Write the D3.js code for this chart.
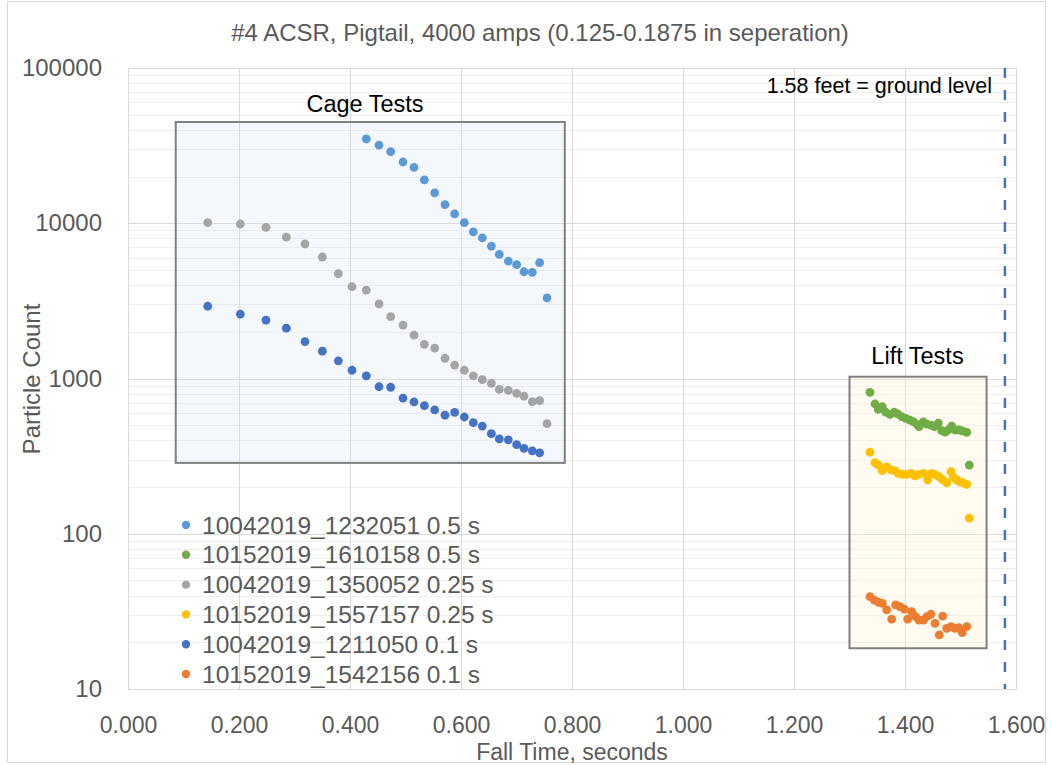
<!DOCTYPE html>
<html>
<head>
<meta charset="utf-8">
<script src="https://cdn.jsdelivr.net/npm/d3@7/dist/d3.min.js"></script>
<style>
  html, body { margin: 0; padding: 0; background: #fff; }
  svg { display: block; font-family: "Liberation Sans", Arial, sans-serif; }
</style>
</head>
<body>
<svg id="chart" width="1052" height="765"></svg>
<script>
// ---------------- DATA ----------------
const chartTitle = "#4 ACSR, Pigtail, 4000 amps (0.125-0.1875 in seperation)";
const xTitle = "Fall Time, seconds";
const yTitle = "Particle Count";
const xTickValues = [0, 0.2, 0.4, 0.6, 0.8, 1.0, 1.2, 1.4, 1.6];
const yTickValues = [10, 100, 1000, 10000, 100000];

const seriesNames = [
  "10042019_1232051 0.5 s",
  "10152019_1610158 0.5 s",
  "10042019_1350052 0.25 s",
  "10152019_1557157 0.25 s",
  "10042019_1211050 0.1 s",
  "10152019_1542156 0.1 s"
];
const seriesColors = ["#5b9bd5", "#70ad47", "#a5a5a5", "#ffc000", "#4472c4", "#ed7d31"];

// 10042019_1232051 0.5 s (cage)
const s1232051_x = [0.4294,0.4523,0.4733,0.4955,0.5153,0.5340,0.5526,0.5712,0.5886,0.6060,0.6222,0.6384,0.6547,0.6690,0.6853,0.7003,0.7135,0.7285,0.7417,0.7550];
const s1232051_y = [34900,31900,28900,24800,22900,19000,15700,13200,11500,10100,8790,8040,7130,6310,5710,5410,4870,4830,5570,3310];

// 10042019_1350052 0.25 s (cage)
const s1350052_x = [0.1436,0.2024,0.2486,0.2853,0.3189,0.3502,0.3790,0.4036,0.4294,0.4523,0.4733,0.4955,0.5153,0.5340,0.5526,0.5712,0.5886,0.6060,0.6222,0.6384,0.6547,0.6690,0.6853,0.7003,0.7135,0.7285,0.7417,0.7550];
const s1350052_y = [10100,9890,9410,8150,7350,6060,4730,3900,3710,3020,2500,2210,1900,1660,1570,1350,1220,1130,1040,982,931,852,839,803,771,709,720,512];

// 10042019_1211050 0.1 s (cage)
const s1211050_x = [0.1436,0.2024,0.2486,0.2853,0.3189,0.3502,0.3790,0.4036,0.4294,0.4523,0.4733,0.4955,0.5153,0.5340,0.5526,0.5712,0.5886,0.6060,0.6222,0.6384,0.6547,0.6690,0.6853,0.7003,0.7135,0.7285,0.7417];
const s1211050_y = [2920,2600,2380,2110,1730,1500,1300,1130,1040,885,878,748,706,668,627,580,605,565,519,494,441,408,403,375,355,342,332];

// 10152019_1610158 0.5 s (lift)
const s1610158_x = [1.3369,1.3459,1.3519,1.3591,1.3652,1.3730,1.3807,1.3868,1.3941,1.4013,1.4090,1.4150,1.4211,1.4252,1.4330,1.4391,1.4468,1.4528,1.4600,1.4661,1.4721,1.4780,1.4841,1.4901,1.4973,1.5032,1.5112,1.5159];
const s1610158_y = [815,685,633,658,608,588,606,591,567,554,540,527,509,489,525,509,501,489,515,461,452,466,494,466,466,459,450,277];

// 10152019_1557157 0.25 s (lift)
const s1557157_x = [1.3369,1.3459,1.3519,1.3591,1.3670,1.3748,1.3820,1.3880,1.3951,1.4030,1.4108,1.4180,1.4252,1.4330,1.4409,1.4481,1.4541,1.4613,1.4672,1.4751,1.4829,1.4870,1.4931,1.4991,1.5050,1.5112,1.5159];
const s1557157_y = [335,287,277,255,270,258,254,245,241,241,245,236,241,245,222,245,240,233,224,213,251,231,222,216,213,208,126];

// 10152019_1542156 0.1 s (lift)
const s1542156_x = [1.3369,1.3447,1.3519,1.3591,1.3670,1.3760,1.3832,1.3910,1.3988,1.4048,1.4120,1.4193,1.4252,1.4330,1.4391,1.4468,1.4541,1.4618,1.4679,1.4751,1.4829,1.4901,1.4973,1.5032,1.5112];
const s1542156_y = [39.3,37.4,36.2,35.6,32.3,28.2,34.8,33.9,32.7,28.2,31.5,29.2,27.8,27.8,29.2,30.3,26.5,22.3,29.5,24.6,25.2,24.6,24.8,23.1,25.2];

// annotation boxes (data coordinates)
const cageBoxX = [0.086, 0.787];
const cageBoxY = [286, 44900];
const liftBoxX = [1.300, 1.547];
const liftBoxY = [18.3, 1027];
const groundLevelX = 1.58;
const groundLabel = "1.58 feet = ground level";
const cageLabel = "Cage Tests";
const liftLabel = "Lift Tests";

// ---------------- LAYOUT ----------------
const svg = d3.select("#chart");
const W = 1052, H = 765;
const plot = { left: 128, right: 1016, top: 68, bottom: 689 };

const x = d3.scaleLinear().domain([0, 1.6]).range([plot.left, plot.right]);
const y = d3.scaleLog().domain([10, 100000]).range([plot.bottom, plot.top]);

svg.append("rect").attr("width", W).attr("height", H).attr("fill", "#fff");
// outer chart border
svg.append("rect").attr("x", 7.5).attr("y", 1.5).attr("width", 1038).attr("height", 761)
  .attr("fill", "none").attr("stroke", "#d9d9d9").attr("stroke-width", 1);

// minor log gridlines
const minor = [];
for (let d = 10; d < 100000; d *= 10) for (let k = 2; k <= 9; k++) minor.push(d * k);
svg.append("g").selectAll("line").data(minor).join("line")
  .attr("x1", plot.left).attr("x2", plot.right)
  .attr("y1", d => Math.round(y(d)) + 0.5).attr("y2", d => Math.round(y(d)) + 0.5)
  .attr("stroke", "#efefef").attr("stroke-width", 1);

// major horizontal grid
svg.append("g").selectAll("line").data(yTickValues).join("line")
  .attr("x1", plot.left).attr("x2", plot.right)
  .attr("y1", d => Math.round(y(d)) + 0.5).attr("y2", d => Math.round(y(d)) + 0.5)
  .attr("stroke", "#d9d9d9").attr("stroke-width", 1);

// vertical grid
svg.append("g").selectAll("line").data(xTickValues).join("line")
  .attr("x1", d => Math.round(x(d)) + 0.5).attr("x2", d => Math.round(x(d)) + 0.5)
  .attr("y1", plot.top).attr("y2", plot.bottom)
  .attr("stroke", "#d9d9d9").attr("stroke-width", 1);

// plot border
svg.append("rect").attr("x", plot.left + 0.5).attr("y", plot.top + 0.5)
  .attr("width", plot.right - plot.left).attr("height", plot.bottom - plot.top)
  .attr("fill", "none").attr("stroke", "#d9d9d9");

// annotation boxes
svg.append("rect")
  .attr("x", x(cageBoxX[0])).attr("y", y(cageBoxY[1]))
  .attr("width", x(cageBoxX[1]) - x(cageBoxX[0])).attr("height", y(cageBoxY[0]) - y(cageBoxY[1]))
  .attr("fill", "#dae3f3").attr("fill-opacity", 0.3)
  .attr("stroke", "#808080").attr("stroke-width", 2);
svg.append("rect")
  .attr("x", x(liftBoxX[0])).attr("y", y(liftBoxY[1]))
  .attr("width", x(liftBoxX[1]) - x(liftBoxX[0])).attr("height", y(liftBoxY[0]) - y(liftBoxY[1]))
  .attr("fill", "#fff2cc").attr("fill-opacity", 0.3)
  .attr("stroke", "#808080").attr("stroke-width", 2);

// ground level dashed line
svg.append("line")
  .attr("x1", x(groundLevelX)).attr("x2", x(groundLevelX))
  .attr("y1", plot.top).attr("y2", plot.bottom)
  .attr("stroke", "#4472c4").attr("stroke-width", 2.5).attr("stroke-dasharray", "10,12");

// axes via d3
const yAxis = d3.axisLeft(y).tickValues(yTickValues).tickFormat(d3.format("d")).tickSize(0).tickPadding(26);
const gy = svg.append("g").attr("transform", `translate(${plot.left},0)`).call(yAxis);
gy.select(".domain").remove();
gy.selectAll("text").attr("fill", "#595959").style("font-size", "24px").style("font-family", "Liberation Sans, Arial, sans-serif");

const xAxis = d3.axisBottom(x).tickValues(xTickValues).tickFormat(d3.format(".3f")).tickSize(0).tickPadding(28);
const gx = svg.append("g").attr("transform", `translate(0,${plot.bottom})`).call(xAxis);
gx.select(".domain").remove();
gx.selectAll("text").attr("fill", "#595959").style("font-size", "23px").style("font-family", "Liberation Sans, Arial, sans-serif");

// titles
svg.append("text").attr("x", 540).attr("y", 41).attr("text-anchor", "middle")
  .attr("fill", "#595959").style("font-size", "24px").text(chartTitle);
svg.append("text").attr("x", (plot.left + plot.right) / 2).attr("y", 760).attr("text-anchor", "middle")
  .attr("fill", "#595959").style("font-size", "23px").text(xTitle);
svg.append("text").attr("transform", "translate(40,379) rotate(-90)").attr("text-anchor", "middle")
  .attr("fill", "#595959").style("font-size", "24px").text(yTitle);

// box labels
svg.append("text").attr("x", 365).attr("y", 111.5).attr("text-anchor", "middle")
  .attr("fill", "#000").style("font-size", "23.5px").text(cageLabel);
svg.append("text").attr("x", 917.5).attr("y", 363.5).attr("text-anchor", "middle")
  .attr("fill", "#000").style("font-size", "23.5px").text(liftLabel);
svg.append("text").attr("x", 992).attr("y", 93).attr("text-anchor", "end")
  .attr("fill", "#000").style("font-size", "21.5px").text(groundLabel);

// series
const series = [
  { xs: s1232051_x, ys: s1232051_y, c: seriesColors[0] },
  { xs: s1610158_x, ys: s1610158_y, c: seriesColors[1] },
  { xs: s1350052_x, ys: s1350052_y, c: seriesColors[2] },
  { xs: s1557157_x, ys: s1557157_y, c: seriesColors[3] },
  { xs: s1211050_x, ys: s1211050_y, c: seriesColors[4] },
  { xs: s1542156_x, ys: s1542156_y, c: seriesColors[5] }
];
series.forEach(s => {
  const pts = s.xs.map((v, i) => [v, s.ys[i]]);
  svg.append("g").selectAll("circle").data(pts).join("circle")
    .attr("cx", d => x(d[0])).attr("cy", d => y(d[1])).attr("r", 4.4)
    .attr("fill", s.c);
});

// legend
const lg = svg.append("g").attr("transform", "translate(186,525)");
const rows = lg.selectAll("g").data(seriesNames).join("g")
  .attr("transform", (d, i) => `translate(0,${i * 29.8})`);
rows.append("circle").attr("r", 4.2).attr("fill", (d, i) => seriesColors[i]);
rows.append("text").attr("x", 16).attr("y", 8.6).attr("fill", "#595959")
  .style("font-size", "24.5px").text(d => d);
</script>
</body>
</html>
